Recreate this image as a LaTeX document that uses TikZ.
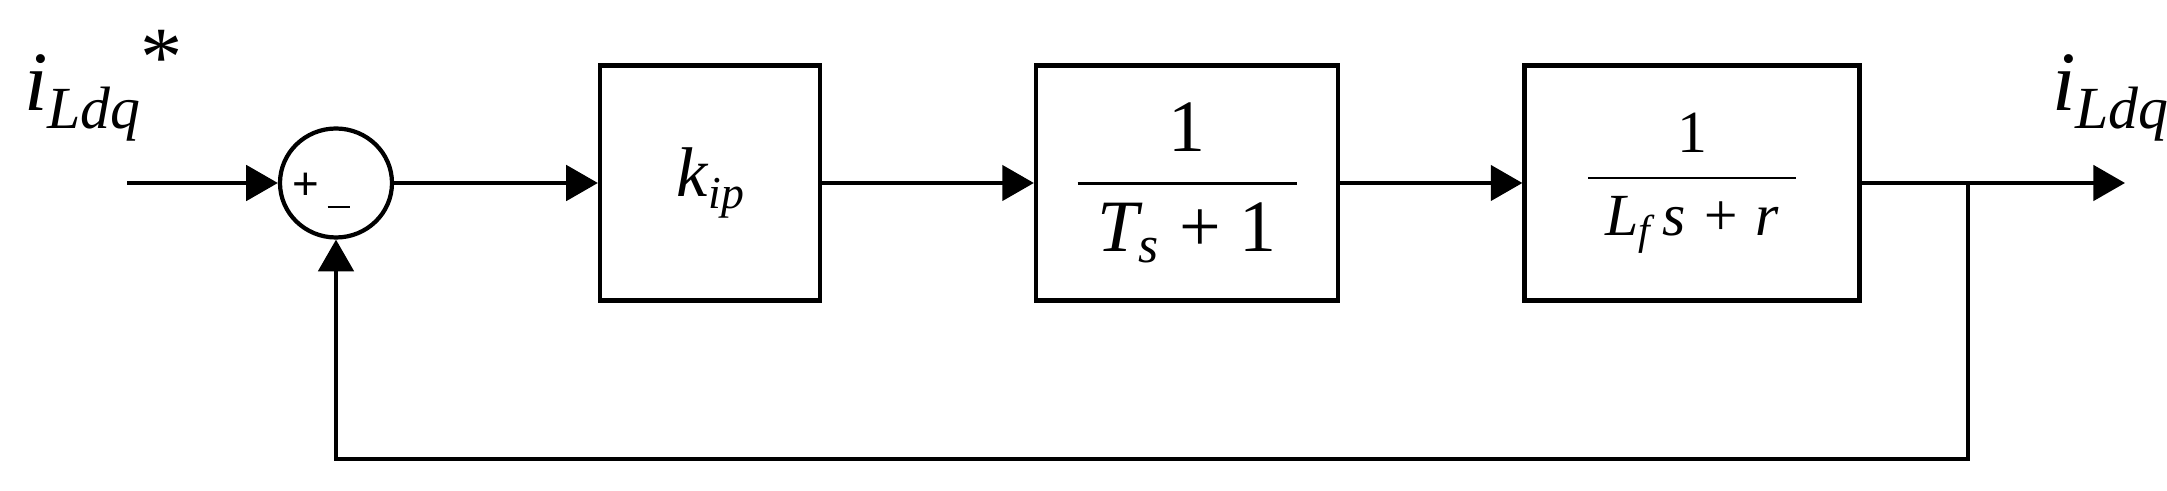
\documentclass[tikz,border=0pt]{standalone}
\usepackage{fontspec}
\usepackage{amsmath}
\setmainfont{Liberation Serif}
\newfontfamily\sgnfont{Liberation Sans}
\usetikzlibrary{arrows.meta,shapes.geometric}
\begin{document}
\begin{tikzpicture}[x=0.01cm,y=0.01cm,
  line width=1.2pt,
  arr/.style={-{Triangle[length=9pt,width=10pt]}},
  blk/.style={draw,minimum height=235*0.01cm,inner sep=0pt}]
\useasboundingbox (0,0) rectangle (2167,491);
\coordinate (in) at (127,308);
\node[draw,ellipse,minimum width=112*0.01cm,minimum height=109*0.01cm,inner sep=0pt] (sum) at (336,308) {};
\node[font=\sgnfont\fontsize{13}{13}\selectfont] (plus) at (306,305) {+};
\node[font=\sgnfont\fontsize{13}{13}\selectfont] (minus) at (339,280) {\rule[0.3ex]{0.5em}{0.6pt}};
\node[blk,minimum width=220*0.01cm] (b1) at (710,308) {\fontsize{20}{24}\selectfont\textit{k}\raisebox{-0.35ex}{\fontsize{13}{15}\selectfont\textit{ip}}};
\node[blk,minimum width=302*0.01cm] (b2) at (1187,308) {\fontsize{21}{25}\selectfont$\dfrac{\text{1}}{\;\text{\itshape T}_{\text{\itshape s}}\text{ + 1}\;}$};
\node[blk,minimum width=335*0.01cm] (b3) at (1692,308) {\fontsize{17}{20}\selectfont$\dfrac{\text{1}}{\;\text{\itshape L}_{\text{\itshape f}}\,\text{\itshape s + r}\;}$};
\coordinate (br) at (1968,308);
\coordinate (out) at (2125,308);
\coordinate (fb) at (1968,32);
\coordinate (fb2) at (336,32);
\draw[arr] (in) -- (sum.west);
\draw[arr] (sum.east) -- (b1.west);
\draw[arr] (b1.east) -- (b2.west);
\draw[arr] (b2.east) -- (b3.west);
\draw[arr] (b3.east) -- (out);
\draw[arr] (br) -- (fb) -- (fb2) -- (sum.south);
\node[anchor=base west,inner sep=0pt,font=\fontsize{24}{28}\selectfont] (lin) at (22,380) {\textit{i}\raisebox{-0.45ex}{\fontsize{17}{20}\selectfont\textit{Ldq}}\raisebox{0.65ex}{*}};
\node[anchor=base west,inner sep=0pt,font=\fontsize{24}{28}\selectfont] (lout) at (2050,380) {\textit{i}\raisebox{-0.45ex}{\fontsize{17}{20}\selectfont\textit{Ldq}}};
\end{tikzpicture}
\end{document}
